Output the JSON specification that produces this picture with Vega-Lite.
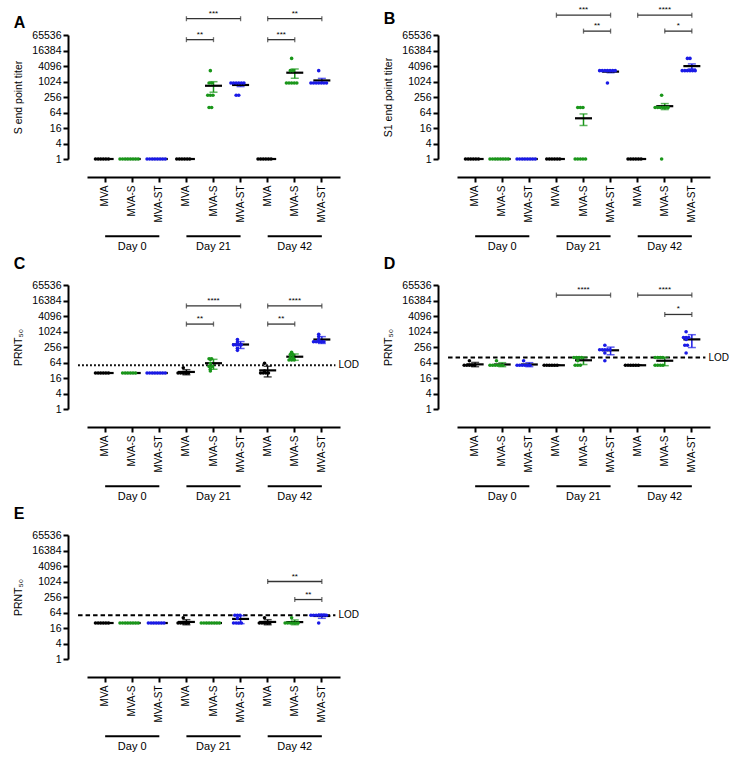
{
"$schema": "https://vega.github.io/schema/vega-lite/v6.json",
"padding": {"left": 13, "top": 6, "right": 5, "bottom": 5},
"datasets": {
"days": [
{"g":"0|MVA","g2":"0|MVA-ST","gm":"0|MVA-S","v":0.001,"lab":"Day 0"},
{"g":"21|MVA","g2":"21|MVA-ST","gm":"21|MVA-S","v":0.001,"lab":"Day 21"},
{"g":"42|MVA","g2":"42|MVA-ST","gm":"42|MVA-S","v":0.001,"lab":"Day 42"}
],
"bA": [
{"g":"21|MVA","g2":"21|MVA-ST","gm":"21|MVA-S","span":2,"v":281000,"s":"***"},
{"g":"21|MVA","g2":"21|MVA-S","gm":"21|MVA","span":1,"v":43200,"s":"**"},
{"g":"42|MVA","g2":"42|MVA-ST","gm":"42|MVA-S","span":2,"v":281000,"s":"**"},
{"g":"42|MVA","g2":"42|MVA-S","gm":"42|MVA","span":1,"v":43200,"s":"***"}
],
"bB": [
{"g":"21|MVA","g2":"21|MVA-ST","gm":"21|MVA-S","span":2,"v":386000,"s":"***"},
{"g":"21|MVA-S","g2":"21|MVA-ST","gm":"21|MVA-S","span":1,"v":92700,"s":"**"},
{"g":"42|MVA","g2":"42|MVA-ST","gm":"42|MVA-S","span":2,"v":386000,"s":"****"},
{"g":"42|MVA-S","g2":"42|MVA-ST","gm":"42|MVA-S","span":1,"v":92700,"s":"*"}
],
"bC": [
{"g":"21|MVA","g2":"21|MVA-ST","gm":"21|MVA-S","span":2,"v":10080,"s":"****"},
{"g":"21|MVA","g2":"21|MVA-S","gm":"21|MVA","span":1,"v":1990,"s":"**"},
{"g":"42|MVA","g2":"42|MVA-ST","gm":"42|MVA-S","span":2,"v":10080,"s":"****"},
{"g":"42|MVA","g2":"42|MVA-S","gm":"42|MVA","span":1,"v":1990,"s":"**"}
],
"bD": [
{"g":"21|MVA","g2":"21|MVA-ST","gm":"21|MVA-S","span":2,"v":26600,"s":"****"},
{"g":"42|MVA","g2":"42|MVA-ST","gm":"42|MVA-S","span":2,"v":26600,"s":"****"},
{"g":"42|MVA-S","g2":"42|MVA-ST","gm":"42|MVA-S","span":1,"v":4700,"s":"*"}
],
"bE": [
{"g":"42|MVA","g2":"42|MVA-ST","gm":"42|MVA-S","span":2,"v":1024,"s":"**"},
{"g":"42|MVA-S","g2":"42|MVA-ST","gm":"42|MVA-S","span":1,"v":204,"s":"**"}
],
"dA": [
{"g":"0|MVA","c":"MVA","v":1},{"g":"0|MVA","c":"MVA","v":1},{"g":"0|MVA","c":"MVA","v":1},{"g":"0|MVA","c":"MVA","v":1},{"g":"0|MVA","c":"MVA","v":1},{"g":"0|MVA","c":"MVA","v":1},
{"g":"0|MVA-S","c":"MVA-S","v":1},{"g":"0|MVA-S","c":"MVA-S","v":1},{"g":"0|MVA-S","c":"MVA-S","v":1},{"g":"0|MVA-S","c":"MVA-S","v":1},{"g":"0|MVA-S","c":"MVA-S","v":1},{"g":"0|MVA-S","c":"MVA-S","v":1},{"g":"0|MVA-S","c":"MVA-S","v":1},{"g":"0|MVA-S","c":"MVA-S","v":1},
{"g":"0|MVA-ST","c":"MVA-ST","v":1},{"g":"0|MVA-ST","c":"MVA-ST","v":1},{"g":"0|MVA-ST","c":"MVA-ST","v":1},{"g":"0|MVA-ST","c":"MVA-ST","v":1},{"g":"0|MVA-ST","c":"MVA-ST","v":1},{"g":"0|MVA-ST","c":"MVA-ST","v":1},{"g":"0|MVA-ST","c":"MVA-ST","v":1},{"g":"0|MVA-ST","c":"MVA-ST","v":1},
{"g":"21|MVA","c":"MVA","v":1},{"g":"21|MVA","c":"MVA","v":1},{"g":"21|MVA","c":"MVA","v":1},{"g":"21|MVA","c":"MVA","v":1},{"g":"21|MVA","c":"MVA","v":1},{"g":"21|MVA","c":"MVA","v":1},
{"g":"21|MVA-S","c":"MVA-S","v":2700},{"g":"21|MVA-S","c":"MVA-S","v":900},{"g":"21|MVA-S","c":"MVA-S","v":900},{"g":"21|MVA-S","c":"MVA-S","v":300},{"g":"21|MVA-S","c":"MVA-S","v":300},{"g":"21|MVA-S","c":"MVA-S","v":300},{"g":"21|MVA-S","c":"MVA-S","v":100},{"g":"21|MVA-S","c":"MVA-S","v":100},
{"g":"21|MVA-ST","c":"MVA-ST","v":900},{"g":"21|MVA-ST","c":"MVA-ST","v":900},{"g":"21|MVA-ST","c":"MVA-ST","v":900},{"g":"21|MVA-ST","c":"MVA-ST","v":900},{"g":"21|MVA-ST","c":"MVA-ST","v":900},{"g":"21|MVA-ST","c":"MVA-ST","v":900},{"g":"21|MVA-ST","c":"MVA-ST","v":300},{"g":"21|MVA-ST","c":"MVA-ST","v":300},
{"g":"42|MVA","c":"MVA","v":1},{"g":"42|MVA","c":"MVA","v":1},{"g":"42|MVA","c":"MVA","v":1},{"g":"42|MVA","c":"MVA","v":1},{"g":"42|MVA","c":"MVA","v":1},{"g":"42|MVA","c":"MVA","v":1},
{"g":"42|MVA-S","c":"MVA-S","v":8100},{"g":"42|MVA-S","c":"MVA-S","v":2700},{"g":"42|MVA-S","c":"MVA-S","v":2700},{"g":"42|MVA-S","c":"MVA-S","v":900},{"g":"42|MVA-S","c":"MVA-S","v":900},{"g":"42|MVA-S","c":"MVA-S","v":900},{"g":"42|MVA-S","c":"MVA-S","v":900},{"g":"42|MVA-S","c":"MVA-S","v":900},
{"g":"42|MVA-ST","c":"MVA-ST","v":2700},{"g":"42|MVA-ST","c":"MVA-ST","v":900},{"g":"42|MVA-ST","c":"MVA-ST","v":900},{"g":"42|MVA-ST","c":"MVA-ST","v":900},{"g":"42|MVA-ST","c":"MVA-ST","v":900},{"g":"42|MVA-ST","c":"MVA-ST","v":900},{"g":"42|MVA-ST","c":"MVA-ST","v":900},{"g":"42|MVA-ST","c":"MVA-ST","v":900}
],
"dB": [
{"g":"0|MVA","c":"MVA","v":1},{"g":"0|MVA","c":"MVA","v":1},{"g":"0|MVA","c":"MVA","v":1},{"g":"0|MVA","c":"MVA","v":1},{"g":"0|MVA","c":"MVA","v":1},{"g":"0|MVA","c":"MVA","v":1},
{"g":"0|MVA-S","c":"MVA-S","v":1},{"g":"0|MVA-S","c":"MVA-S","v":1},{"g":"0|MVA-S","c":"MVA-S","v":1},{"g":"0|MVA-S","c":"MVA-S","v":1},{"g":"0|MVA-S","c":"MVA-S","v":1},{"g":"0|MVA-S","c":"MVA-S","v":1},{"g":"0|MVA-S","c":"MVA-S","v":1},{"g":"0|MVA-S","c":"MVA-S","v":1},
{"g":"0|MVA-ST","c":"MVA-ST","v":1},{"g":"0|MVA-ST","c":"MVA-ST","v":1},{"g":"0|MVA-ST","c":"MVA-ST","v":1},{"g":"0|MVA-ST","c":"MVA-ST","v":1},{"g":"0|MVA-ST","c":"MVA-ST","v":1},{"g":"0|MVA-ST","c":"MVA-ST","v":1},{"g":"0|MVA-ST","c":"MVA-ST","v":1},{"g":"0|MVA-ST","c":"MVA-ST","v":1},
{"g":"21|MVA","c":"MVA","v":1},{"g":"21|MVA","c":"MVA","v":1},{"g":"21|MVA","c":"MVA","v":1},{"g":"21|MVA","c":"MVA","v":1},{"g":"21|MVA","c":"MVA","v":1},{"g":"21|MVA","c":"MVA","v":1},
{"g":"21|MVA-S","c":"MVA-S","v":100},{"g":"21|MVA-S","c":"MVA-S","v":100},{"g":"21|MVA-S","c":"MVA-S","v":100},{"g":"21|MVA-S","c":"MVA-S","v":1},{"g":"21|MVA-S","c":"MVA-S","v":1},{"g":"21|MVA-S","c":"MVA-S","v":1},{"g":"21|MVA-S","c":"MVA-S","v":1},{"g":"21|MVA-S","c":"MVA-S","v":1},
{"g":"21|MVA-ST","c":"MVA-ST","v":2700},{"g":"21|MVA-ST","c":"MVA-ST","v":2700},{"g":"21|MVA-ST","c":"MVA-ST","v":2700},{"g":"21|MVA-ST","c":"MVA-ST","v":2700},{"g":"21|MVA-ST","c":"MVA-ST","v":2700},{"g":"21|MVA-ST","c":"MVA-ST","v":2700},{"g":"21|MVA-ST","c":"MVA-ST","v":2700},{"g":"21|MVA-ST","c":"MVA-ST","v":900},
{"g":"42|MVA","c":"MVA","v":1},{"g":"42|MVA","c":"MVA","v":1},{"g":"42|MVA","c":"MVA","v":1},{"g":"42|MVA","c":"MVA","v":1},{"g":"42|MVA","c":"MVA","v":1},{"g":"42|MVA","c":"MVA","v":1},
{"g":"42|MVA-S","c":"MVA-S","v":300},{"g":"42|MVA-S","c":"MVA-S","v":100},{"g":"42|MVA-S","c":"MVA-S","v":100},{"g":"42|MVA-S","c":"MVA-S","v":100},{"g":"42|MVA-S","c":"MVA-S","v":100},{"g":"42|MVA-S","c":"MVA-S","v":100},{"g":"42|MVA-S","c":"MVA-S","v":100},{"g":"42|MVA-S","c":"MVA-S","v":1},
{"g":"42|MVA-ST","c":"MVA-ST","v":8100},{"g":"42|MVA-ST","c":"MVA-ST","v":8100},{"g":"42|MVA-ST","c":"MVA-ST","v":2700},{"g":"42|MVA-ST","c":"MVA-ST","v":2700},{"g":"42|MVA-ST","c":"MVA-ST","v":2700},{"g":"42|MVA-ST","c":"MVA-ST","v":2700},{"g":"42|MVA-ST","c":"MVA-ST","v":2700},{"g":"42|MVA-ST","c":"MVA-ST","v":2700}
],
"dC": [
{"g":"0|MVA","c":"MVA","v":25},{"g":"0|MVA","c":"MVA","v":25},{"g":"0|MVA","c":"MVA","v":25},{"g":"0|MVA","c":"MVA","v":25},{"g":"0|MVA","c":"MVA","v":25},{"g":"0|MVA","c":"MVA","v":25},
{"g":"0|MVA-S","c":"MVA-S","v":25},{"g":"0|MVA-S","c":"MVA-S","v":25},{"g":"0|MVA-S","c":"MVA-S","v":25},{"g":"0|MVA-S","c":"MVA-S","v":25},{"g":"0|MVA-S","c":"MVA-S","v":25},{"g":"0|MVA-S","c":"MVA-S","v":25},
{"g":"0|MVA-ST","c":"MVA-ST","v":25},{"g":"0|MVA-ST","c":"MVA-ST","v":25},{"g":"0|MVA-ST","c":"MVA-ST","v":25},{"g":"0|MVA-ST","c":"MVA-ST","v":25},{"g":"0|MVA-ST","c":"MVA-ST","v":25},{"g":"0|MVA-ST","c":"MVA-ST","v":25},{"g":"0|MVA-ST","c":"MVA-ST","v":25},{"g":"0|MVA-ST","c":"MVA-ST","v":25},
{"g":"21|MVA","c":"MVA","v":40},{"g":"21|MVA","c":"MVA","v":25},{"g":"21|MVA","c":"MVA","v":25},{"g":"21|MVA","c":"MVA","v":25},{"g":"21|MVA","c":"MVA","v":25},{"g":"21|MVA","c":"MVA","v":25},
{"g":"21|MVA-S","c":"MVA-S","v":90},{"g":"21|MVA-S","c":"MVA-S","v":90},{"g":"21|MVA-S","c":"MVA-S","v":85},{"g":"21|MVA-S","c":"MVA-S","v":60},{"g":"21|MVA-S","c":"MVA-S","v":45},{"g":"21|MVA-S","c":"MVA-S","v":45},{"g":"21|MVA-S","c":"MVA-S","v":35},{"g":"21|MVA-S","c":"MVA-S","v":30},
{"g":"21|MVA-ST","c":"MVA-ST","v":500},{"g":"21|MVA-ST","c":"MVA-ST","v":400},{"g":"21|MVA-ST","c":"MVA-ST","v":310},{"g":"21|MVA-ST","c":"MVA-ST","v":310},{"g":"21|MVA-ST","c":"MVA-ST","v":310},{"g":"21|MVA-ST","c":"MVA-ST","v":310},{"g":"21|MVA-ST","c":"MVA-ST","v":230},{"g":"21|MVA-ST","c":"MVA-ST","v":190},
{"g":"42|MVA","c":"MVA","v":60},{"g":"42|MVA","c":"MVA","v":30},{"g":"42|MVA","c":"MVA","v":25},{"g":"42|MVA","c":"MVA","v":25},{"g":"42|MVA","c":"MVA","v":25},{"g":"42|MVA","c":"MVA","v":25},
{"g":"42|MVA-S","c":"MVA-S","v":160},{"g":"42|MVA-S","c":"MVA-S","v":130},{"g":"42|MVA-S","c":"MVA-S","v":130},{"g":"42|MVA-S","c":"MVA-S","v":100},{"g":"42|MVA-S","c":"MVA-S","v":100},{"g":"42|MVA-S","c":"MVA-S","v":80},{"g":"42|MVA-S","c":"MVA-S","v":80},{"g":"42|MVA-S","c":"MVA-S","v":80},
{"g":"42|MVA-ST","c":"MVA-ST","v":800},{"g":"42|MVA-ST","c":"MVA-ST","v":650},{"g":"42|MVA-ST","c":"MVA-ST","v":500},{"g":"42|MVA-ST","c":"MVA-ST","v":410},{"g":"42|MVA-ST","c":"MVA-ST","v":410},{"g":"42|MVA-ST","c":"MVA-ST","v":410},{"g":"42|MVA-ST","c":"MVA-ST","v":410},{"g":"42|MVA-ST","c":"MVA-ST","v":410}
],
"dD": [
{"g":"0|MVA","c":"MVA","v":75},{"g":"0|MVA","c":"MVA","v":50},{"g":"0|MVA","c":"MVA","v":50},{"g":"0|MVA","c":"MVA","v":50},{"g":"0|MVA","c":"MVA","v":50},{"g":"0|MVA","c":"MVA","v":50},
{"g":"0|MVA-S","c":"MVA-S","v":75},{"g":"0|MVA-S","c":"MVA-S","v":50},{"g":"0|MVA-S","c":"MVA-S","v":50},{"g":"0|MVA-S","c":"MVA-S","v":50},{"g":"0|MVA-S","c":"MVA-S","v":50},{"g":"0|MVA-S","c":"MVA-S","v":50},{"g":"0|MVA-S","c":"MVA-S","v":50},
{"g":"0|MVA-ST","c":"MVA-ST","v":75},{"g":"0|MVA-ST","c":"MVA-ST","v":50},{"g":"0|MVA-ST","c":"MVA-ST","v":50},{"g":"0|MVA-ST","c":"MVA-ST","v":50},{"g":"0|MVA-ST","c":"MVA-ST","v":50},{"g":"0|MVA-ST","c":"MVA-ST","v":50},{"g":"0|MVA-ST","c":"MVA-ST","v":50},
{"g":"21|MVA","c":"MVA","v":50},{"g":"21|MVA","c":"MVA","v":50},{"g":"21|MVA","c":"MVA","v":50},{"g":"21|MVA","c":"MVA","v":50},{"g":"21|MVA","c":"MVA","v":50},{"g":"21|MVA","c":"MVA","v":50},
{"g":"21|MVA-S","c":"MVA-S","v":100},{"g":"21|MVA-S","c":"MVA-S","v":100},{"g":"21|MVA-S","c":"MVA-S","v":100},{"g":"21|MVA-S","c":"MVA-S","v":100},{"g":"21|MVA-S","c":"MVA-S","v":75},{"g":"21|MVA-S","c":"MVA-S","v":50},{"g":"21|MVA-S","c":"MVA-S","v":50},{"g":"21|MVA-S","c":"MVA-S","v":50},
{"g":"21|MVA-ST","c":"MVA-ST","v":300},{"g":"21|MVA-ST","c":"MVA-ST","v":200},{"g":"21|MVA-ST","c":"MVA-ST","v":200},{"g":"21|MVA-ST","c":"MVA-ST","v":200},{"g":"21|MVA-ST","c":"MVA-ST","v":200},{"g":"21|MVA-ST","c":"MVA-ST","v":200},{"g":"21|MVA-ST","c":"MVA-ST","v":150},{"g":"21|MVA-ST","c":"MVA-ST","v":75},
{"g":"42|MVA","c":"MVA","v":50},{"g":"42|MVA","c":"MVA","v":50},{"g":"42|MVA","c":"MVA","v":50},{"g":"42|MVA","c":"MVA","v":50},{"g":"42|MVA","c":"MVA","v":50},{"g":"42|MVA","c":"MVA","v":50},
{"g":"42|MVA-S","c":"MVA-S","v":100},{"g":"42|MVA-S","c":"MVA-S","v":100},{"g":"42|MVA-S","c":"MVA-S","v":100},{"g":"42|MVA-S","c":"MVA-S","v":100},{"g":"42|MVA-S","c":"MVA-S","v":50},{"g":"42|MVA-S","c":"MVA-S","v":50},{"g":"42|MVA-S","c":"MVA-S","v":50},{"g":"42|MVA-S","c":"MVA-S","v":50},
{"g":"42|MVA-ST","c":"MVA-ST","v":1000},{"g":"42|MVA-ST","c":"MVA-ST","v":600},{"g":"42|MVA-ST","c":"MVA-ST","v":600},{"g":"42|MVA-ST","c":"MVA-ST","v":600},{"g":"42|MVA-ST","c":"MVA-ST","v":500},{"g":"42|MVA-ST","c":"MVA-ST","v":300},{"g":"42|MVA-ST","c":"MVA-ST","v":300},{"g":"42|MVA-ST","c":"MVA-ST","v":150}
],
"dE": [
{"g":"0|MVA","c":"MVA","v":25},{"g":"0|MVA","c":"MVA","v":25},{"g":"0|MVA","c":"MVA","v":25},{"g":"0|MVA","c":"MVA","v":25},{"g":"0|MVA","c":"MVA","v":25},{"g":"0|MVA","c":"MVA","v":25},
{"g":"0|MVA-S","c":"MVA-S","v":25},{"g":"0|MVA-S","c":"MVA-S","v":25},{"g":"0|MVA-S","c":"MVA-S","v":25},{"g":"0|MVA-S","c":"MVA-S","v":25},{"g":"0|MVA-S","c":"MVA-S","v":25},{"g":"0|MVA-S","c":"MVA-S","v":25},{"g":"0|MVA-S","c":"MVA-S","v":25},{"g":"0|MVA-S","c":"MVA-S","v":25},
{"g":"0|MVA-ST","c":"MVA-ST","v":25},{"g":"0|MVA-ST","c":"MVA-ST","v":25},{"g":"0|MVA-ST","c":"MVA-ST","v":25},{"g":"0|MVA-ST","c":"MVA-ST","v":25},{"g":"0|MVA-ST","c":"MVA-ST","v":25},{"g":"0|MVA-ST","c":"MVA-ST","v":25},{"g":"0|MVA-ST","c":"MVA-ST","v":25},
{"g":"21|MVA","c":"MVA","v":40},{"g":"21|MVA","c":"MVA","v":25},{"g":"21|MVA","c":"MVA","v":25},{"g":"21|MVA","c":"MVA","v":25},{"g":"21|MVA","c":"MVA","v":25},{"g":"21|MVA","c":"MVA","v":25},
{"g":"21|MVA-S","c":"MVA-S","v":25},{"g":"21|MVA-S","c":"MVA-S","v":25},{"g":"21|MVA-S","c":"MVA-S","v":25},{"g":"21|MVA-S","c":"MVA-S","v":25},{"g":"21|MVA-S","c":"MVA-S","v":25},{"g":"21|MVA-S","c":"MVA-S","v":25},{"g":"21|MVA-S","c":"MVA-S","v":25},{"g":"21|MVA-S","c":"MVA-S","v":25},
{"g":"21|MVA-ST","c":"MVA-ST","v":50},{"g":"21|MVA-ST","c":"MVA-ST","v":50},{"g":"21|MVA-ST","c":"MVA-ST","v":50},{"g":"21|MVA-ST","c":"MVA-ST","v":38},{"g":"21|MVA-ST","c":"MVA-ST","v":25},{"g":"21|MVA-ST","c":"MVA-ST","v":25},{"g":"21|MVA-ST","c":"MVA-ST","v":25},{"g":"21|MVA-ST","c":"MVA-ST","v":25},
{"g":"42|MVA","c":"MVA","v":40},{"g":"42|MVA","c":"MVA","v":25},{"g":"42|MVA","c":"MVA","v":25},{"g":"42|MVA","c":"MVA","v":25},{"g":"42|MVA","c":"MVA","v":25},{"g":"42|MVA","c":"MVA","v":25},
{"g":"42|MVA-S","c":"MVA-S","v":40},{"g":"42|MVA-S","c":"MVA-S","v":25},{"g":"42|MVA-S","c":"MVA-S","v":25},{"g":"42|MVA-S","c":"MVA-S","v":25},{"g":"42|MVA-S","c":"MVA-S","v":25},{"g":"42|MVA-S","c":"MVA-S","v":25},{"g":"42|MVA-S","c":"MVA-S","v":25},
{"g":"42|MVA-ST","c":"MVA-ST","v":50},{"g":"42|MVA-ST","c":"MVA-ST","v":50},{"g":"42|MVA-ST","c":"MVA-ST","v":50},{"g":"42|MVA-ST","c":"MVA-ST","v":50},{"g":"42|MVA-ST","c":"MVA-ST","v":50},{"g":"42|MVA-ST","c":"MVA-ST","v":50},{"g":"42|MVA-ST","c":"MVA-ST","v":50},{"g":"42|MVA-ST","c":"MVA-ST","v":25}
]
},
"columns": 2,
"spacing": {"row": 126, "column": 117},
"bounds": "flush",
"concat": [
{
"width": 253, "height": 124,
"title": {"text": "A", "offset": -21},
"encoding": {
"x": {"field": "g", "type": "nominal", "bandPosition": 0.5, "scale": {"domain": ["0|MVA","0|MVA-S","0|MVA-ST","21|MVA","21|MVA-S","21|MVA-ST","42|MVA","42|MVA-S","42|MVA-ST"], "paddingInner": 0, "paddingOuter": 0.17}, "axis": {"title": null, "offset": 18, "labelAngle": -90, "labelExpr": "split(datum.value,'|')[1]", "labelFontSize": 10, "labelPadding": 3}},
"y": {"field": "v", "type": "quantitative", "scale": {"type": "log", "base": 2, "domain": [1, 65536], "nice": false}, "axis": {"title": "S end point titer", "offset": 19, "values": [1,4,16,64,256,1024,4096,16384,65536], "format": "d", "titlePadding": 8}}
},
"layer": [
{"data": {"name": "dA"}, "mark": {"type": "errorbar", "extent": "stderr", "ticks": true, "size": 8, "thickness": 1.5}, "encoding": {"color": {"field": "c", "type": "nominal", "scale": {"domain": ["MVA","MVA-S","MVA-ST"], "range": ["#000000","#1a961a","#1a1ae6"]}, "legend": null}}},
{"data": {"name": "dA"}, "mark": {"type": "tick", "color": "black", "size": 17, "thickness": 2.2}, "encoding": {"y": {"aggregate": "mean", "field": "v", "type": "quantitative"}}},
{"data": {"name": "dA"}, "transform": [{"window": [{"op": "count", "as": "one"}], "frame": [0, 0]}, {"stack": "one", "groupby": ["g", "v"], "offset": "center", "as": ["s0", "s1"]}], "mark": {"type": "circle", "size": 13, "opacity": 1}, "encoding": {"xOffset": {"field": "s0", "type": "quantitative", "scale": {"domain": [-4.5, 3.5], "range": [-10.4, 10.4]}}, "color": {"field": "c", "type": "nominal", "legend": null}}},
{"data": {"name": "bA"}, "mark": {"type": "rule", "color": "#333333", "strokeWidth": 1.3, "clip": false}, "encoding": {"x2": {"field": "g2", "bandPosition": 0.5}}},
{"data": {"name": "bA"}, "transform": [{"fold": ["g", "g2"], "as": ["k", "gg"]}], "mark": {"type": "tick", "orient": "vertical", "color": "#333333", "size": 5, "thickness": 1.3, "clip": false}, "encoding": {"x": {"field": "gg", "type": "nominal", "bandPosition": 0.5, "title": null}}},
{"data": {"name": "bA"}, "transform": [{"filter": "datum.span == 2"}], "mark": {"type": "text", "baseline": "bottom", "dy": -1, "fontSize": 8, "clip": false}, "encoding": {"x": {"field": "gm", "type": "nominal", "bandPosition": 0.5, "title": null}, "text": {"field": "s"}}},
{"data": {"name": "bA"}, "transform": [{"filter": "datum.span == 1"}], "mark": {"type": "text", "baseline": "bottom", "dy": -1, "fontSize": 8, "clip": false}, "encoding": {"x": {"field": "g", "type": "nominal", "bandPosition": 1, "title": null}, "text": {"field": "s"}}},
{"data": {"name": "days"}, "mark": {"type": "rule", "color": "black", "strokeWidth": 2, "clip": false}, "encoding": {"x2": {"field": "g2", "bandPosition": 0.5}}},
{"data": {"name": "days"}, "mark": {"type": "text", "baseline": "top", "dy": 5, "fontSize": 11, "clip": false}, "encoding": {"x": {"field": "gm", "type": "nominal", "bandPosition": 0.5, "title": null}, "text": {"field": "lab"}}}
]
},
{
"width": 253, "height": 124,
"title": {"text": "B", "offset": -21},
"encoding": {
"x": {"field": "g", "type": "nominal", "bandPosition": 0.5, "scale": {"domain": ["0|MVA","0|MVA-S","0|MVA-ST","21|MVA","21|MVA-S","21|MVA-ST","42|MVA","42|MVA-S","42|MVA-ST"], "paddingInner": 0, "paddingOuter": 0.17}, "axis": {"title": null, "offset": 18, "labelAngle": -90, "labelExpr": "split(datum.value,'|')[1]", "labelFontSize": 10, "labelPadding": 3}},
"y": {"field": "v", "type": "quantitative", "scale": {"type": "log", "base": 2, "domain": [1, 65536], "nice": false}, "axis": {"title": "S1 end point titer", "offset": 19, "values": [1,4,16,64,256,1024,4096,16384,65536], "format": "d", "titlePadding": 8}}
},
"layer": [
{"data": {"name": "dB"}, "mark": {"type": "errorbar", "extent": "stderr", "ticks": true, "size": 8, "thickness": 1.5}, "encoding": {"color": {"field": "c", "type": "nominal", "scale": {"domain": ["MVA","MVA-S","MVA-ST"], "range": ["#000000","#1a961a","#1a1ae6"]}, "legend": null}}},
{"data": {"name": "dB"}, "mark": {"type": "tick", "color": "black", "size": 17, "thickness": 2.2}, "encoding": {"y": {"aggregate": "mean", "field": "v", "type": "quantitative"}}},
{"data": {"name": "dB"}, "transform": [{"window": [{"op": "count", "as": "one"}], "frame": [0, 0]}, {"stack": "one", "groupby": ["g", "v"], "offset": "center", "as": ["s0", "s1"]}], "mark": {"type": "circle", "size": 13, "opacity": 1}, "encoding": {"xOffset": {"field": "s0", "type": "quantitative", "scale": {"domain": [-4.5, 3.5], "range": [-10.4, 10.4]}}, "color": {"field": "c", "type": "nominal", "legend": null}}},
{"data": {"name": "bB"}, "mark": {"type": "rule", "color": "#333333", "strokeWidth": 1.3, "clip": false}, "encoding": {"x2": {"field": "g2", "bandPosition": 0.5}}},
{"data": {"name": "bB"}, "transform": [{"fold": ["g", "g2"], "as": ["k", "gg"]}], "mark": {"type": "tick", "orient": "vertical", "color": "#333333", "size": 5, "thickness": 1.3, "clip": false}, "encoding": {"x": {"field": "gg", "type": "nominal", "bandPosition": 0.5, "title": null}}},
{"data": {"name": "bB"}, "transform": [{"filter": "datum.span == 2"}], "mark": {"type": "text", "baseline": "bottom", "dy": -1, "fontSize": 8, "clip": false}, "encoding": {"x": {"field": "gm", "type": "nominal", "bandPosition": 0.5, "title": null}, "text": {"field": "s"}}},
{"data": {"name": "bB"}, "transform": [{"filter": "datum.span == 1"}], "mark": {"type": "text", "baseline": "bottom", "dy": -1, "fontSize": 8, "clip": false}, "encoding": {"x": {"field": "g", "type": "nominal", "bandPosition": 1, "title": null}, "text": {"field": "s"}}},
{"data": {"name": "days"}, "mark": {"type": "rule", "color": "black", "strokeWidth": 2, "clip": false}, "encoding": {"x2": {"field": "g2", "bandPosition": 0.5}}},
{"data": {"name": "days"}, "mark": {"type": "text", "baseline": "top", "dy": 5, "fontSize": 11, "clip": false}, "encoding": {"x": {"field": "gm", "type": "nominal", "bandPosition": 0.5, "title": null}, "text": {"field": "lab"}}}
]
},
{
"width": 253, "height": 124,
"title": {"text": "C", "offset": 8},
"encoding": {
"x": {"field": "g", "type": "nominal", "bandPosition": 0.5, "scale": {"domain": ["0|MVA","0|MVA-S","0|MVA-ST","21|MVA","21|MVA-S","21|MVA-ST","42|MVA","42|MVA-S","42|MVA-ST"], "paddingInner": 0, "paddingOuter": 0.17}, "axis": {"title": null, "offset": 18, "labelAngle": -90, "labelExpr": "split(datum.value,'|')[1]", "labelFontSize": 10, "labelPadding": 3}},
"y": {"field": "v", "type": "quantitative", "scale": {"type": "log", "base": 2, "domain": [1, 65536], "nice": false}, "axis": {"title": "PRNT₅₀", "offset": 19, "values": [1,4,16,64,256,1024,4096,16384,65536], "format": "d", "titlePadding": 8}}
},
"layer": [
{"data": {"values": [{"v": 50, "g": "0|MVA", "g2": "42|MVA-ST", "lab": "LOD"}]}, "mark": {"type": "rule", "color": "black", "strokeWidth": 1.8, "strokeDash": [1.8, 2.2], "clip": false}, "encoding": {"x": {"field": "g", "type": "nominal", "bandPosition": -0.5, "title": null}, "x2": {"field": "g2", "bandPosition": 1}}},
{"data": {"values": [{"v": 50, "g": "0|MVA", "g2": "42|MVA-ST", "lab": "LOD"}]}, "mark": {"type": "text", "align": "left", "baseline": "middle", "dx": 3, "fontSize": 10, "clip": false}, "encoding": {"x": {"field": "g2", "type": "nominal", "bandPosition": 1, "title": null}, "text": {"field": "lab"}}},
{"data": {"name": "dC"}, "mark": {"type": "errorbar", "extent": "stdev", "ticks": true, "size": 8, "thickness": 1.5}, "encoding": {"color": {"field": "c", "type": "nominal", "scale": {"domain": ["MVA","MVA-S","MVA-ST"], "range": ["#000000","#1a961a","#1a1ae6"]}, "legend": null}}},
{"data": {"name": "dC"}, "mark": {"type": "tick", "color": "black", "size": 17, "thickness": 2.2}, "encoding": {"y": {"aggregate": "mean", "field": "v", "type": "quantitative"}}},
{"data": {"name": "dC"}, "transform": [{"window": [{"op": "count", "as": "one"}], "frame": [0, 0]}, {"stack": "one", "groupby": ["g", "v"], "offset": "center", "as": ["s0", "s1"]}], "mark": {"type": "circle", "size": 13, "opacity": 1}, "encoding": {"xOffset": {"field": "s0", "type": "quantitative", "scale": {"domain": [-4.5, 3.5], "range": [-10.4, 10.4]}}, "color": {"field": "c", "type": "nominal", "legend": null}}},
{"data": {"name": "bC"}, "mark": {"type": "rule", "color": "#333333", "strokeWidth": 1.3, "clip": false}, "encoding": {"x2": {"field": "g2", "bandPosition": 0.5}}},
{"data": {"name": "bC"}, "transform": [{"fold": ["g", "g2"], "as": ["k", "gg"]}], "mark": {"type": "tick", "orient": "vertical", "color": "#333333", "size": 5, "thickness": 1.3, "clip": false}, "encoding": {"x": {"field": "gg", "type": "nominal", "bandPosition": 0.5, "title": null}}},
{"data": {"name": "bC"}, "transform": [{"filter": "datum.span == 2"}], "mark": {"type": "text", "baseline": "bottom", "dy": -1, "fontSize": 8, "clip": false}, "encoding": {"x": {"field": "gm", "type": "nominal", "bandPosition": 0.5, "title": null}, "text": {"field": "s"}}},
{"data": {"name": "bC"}, "transform": [{"filter": "datum.span == 1"}], "mark": {"type": "text", "baseline": "bottom", "dy": -1, "fontSize": 8, "clip": false}, "encoding": {"x": {"field": "g", "type": "nominal", "bandPosition": 1, "title": null}, "text": {"field": "s"}}},
{"data": {"name": "days"}, "mark": {"type": "rule", "color": "black", "strokeWidth": 2, "clip": false}, "encoding": {"x2": {"field": "g2", "bandPosition": 0.5}}},
{"data": {"name": "days"}, "mark": {"type": "text", "baseline": "top", "dy": 5, "fontSize": 11, "clip": false}, "encoding": {"x": {"field": "gm", "type": "nominal", "bandPosition": 0.5, "title": null}, "text": {"field": "lab"}}}
]
},
{
"width": 253, "height": 124,
"title": {"text": "D", "offset": 8},
"encoding": {
"x": {"field": "g", "type": "nominal", "bandPosition": 0.5, "scale": {"domain": ["0|MVA","0|MVA-S","0|MVA-ST","21|MVA","21|MVA-S","21|MVA-ST","42|MVA","42|MVA-S","42|MVA-ST"], "paddingInner": 0, "paddingOuter": 0.17}, "axis": {"title": null, "offset": 18, "labelAngle": -90, "labelExpr": "split(datum.value,'|')[1]", "labelFontSize": 10, "labelPadding": 3}},
"y": {"field": "v", "type": "quantitative", "scale": {"type": "log", "base": 2, "domain": [1, 65536], "nice": false}, "axis": {"title": "PRNT₅₀", "offset": 19, "values": [1,4,16,64,256,1024,4096,16384,65536], "format": "d", "titlePadding": 8}}
},
"layer": [
{"data": {"values": [{"v": 100, "g": "0|MVA", "g2": "42|MVA-ST", "lab": "LOD"}]}, "mark": {"type": "rule", "color": "black", "strokeWidth": 2, "strokeDash": [4.5, 3], "clip": false}, "encoding": {"x": {"field": "g", "type": "nominal", "bandPosition": -0.5, "title": null}, "x2": {"field": "g2", "bandPosition": 1}}},
{"data": {"values": [{"v": 100, "g": "0|MVA", "g2": "42|MVA-ST", "lab": "LOD"}]}, "mark": {"type": "text", "align": "left", "baseline": "middle", "dx": 3, "fontSize": 10, "clip": false}, "encoding": {"x": {"field": "g2", "type": "nominal", "bandPosition": 1, "title": null}, "text": {"field": "lab"}}},
{"data": {"name": "dD"}, "mark": {"type": "errorbar", "extent": "stdev", "ticks": true, "size": 8, "thickness": 1.5}, "encoding": {"color": {"field": "c", "type": "nominal", "scale": {"domain": ["MVA","MVA-S","MVA-ST"], "range": ["#000000","#1a961a","#1a1ae6"]}, "legend": null}}},
{"data": {"name": "dD"}, "mark": {"type": "tick", "color": "black", "size": 17, "thickness": 2.2}, "encoding": {"y": {"aggregate": "mean", "field": "v", "type": "quantitative"}}},
{"data": {"name": "dD"}, "transform": [{"window": [{"op": "count", "as": "one"}], "frame": [0, 0]}, {"stack": "one", "groupby": ["g", "v"], "offset": "center", "as": ["s0", "s1"]}], "mark": {"type": "circle", "size": 13, "opacity": 1}, "encoding": {"xOffset": {"field": "s0", "type": "quantitative", "scale": {"domain": [-4.5, 3.5], "range": [-10.4, 10.4]}}, "color": {"field": "c", "type": "nominal", "legend": null}}},
{"data": {"name": "bD"}, "mark": {"type": "rule", "color": "#333333", "strokeWidth": 1.3, "clip": false}, "encoding": {"x2": {"field": "g2", "bandPosition": 0.5}}},
{"data": {"name": "bD"}, "transform": [{"fold": ["g", "g2"], "as": ["k", "gg"]}], "mark": {"type": "tick", "orient": "vertical", "color": "#333333", "size": 5, "thickness": 1.3, "clip": false}, "encoding": {"x": {"field": "gg", "type": "nominal", "bandPosition": 0.5, "title": null}}},
{"data": {"name": "bD"}, "transform": [{"filter": "datum.span == 2"}], "mark": {"type": "text", "baseline": "bottom", "dy": -1, "fontSize": 8, "clip": false}, "encoding": {"x": {"field": "gm", "type": "nominal", "bandPosition": 0.5, "title": null}, "text": {"field": "s"}}},
{"data": {"name": "bD"}, "transform": [{"filter": "datum.span == 1"}], "mark": {"type": "text", "baseline": "bottom", "dy": -1, "fontSize": 8, "clip": false}, "encoding": {"x": {"field": "g", "type": "nominal", "bandPosition": 1, "title": null}, "text": {"field": "s"}}},
{"data": {"name": "days"}, "mark": {"type": "rule", "color": "black", "strokeWidth": 2, "clip": false}, "encoding": {"x2": {"field": "g2", "bandPosition": 0.5}}},
{"data": {"name": "days"}, "mark": {"type": "text", "baseline": "top", "dy": 5, "fontSize": 11, "clip": false}, "encoding": {"x": {"field": "gm", "type": "nominal", "bandPosition": 0.5, "title": null}, "text": {"field": "lab"}}}
]
},
{
"width": 253, "height": 124,
"title": {"text": "E", "offset": 8},
"encoding": {
"x": {"field": "g", "type": "nominal", "bandPosition": 0.5, "scale": {"domain": ["0|MVA","0|MVA-S","0|MVA-ST","21|MVA","21|MVA-S","21|MVA-ST","42|MVA","42|MVA-S","42|MVA-ST"], "paddingInner": 0, "paddingOuter": 0.17}, "axis": {"title": null, "offset": 18, "labelAngle": -90, "labelExpr": "split(datum.value,'|')[1]", "labelFontSize": 10, "labelPadding": 3}},
"y": {"field": "v", "type": "quantitative", "scale": {"type": "log", "base": 2, "domain": [1, 65536], "nice": false}, "axis": {"title": "PRNT₅₀", "offset": 19, "values": [1,4,16,64,256,1024,4096,16384,65536], "format": "d", "titlePadding": 8}}
},
"layer": [
{"data": {"values": [{"v": 50, "g": "0|MVA", "g2": "42|MVA-ST", "lab": "LOD"}]}, "mark": {"type": "rule", "color": "black", "strokeWidth": 2, "strokeDash": [4.5, 3], "clip": false}, "encoding": {"x": {"field": "g", "type": "nominal", "bandPosition": -0.5, "title": null}, "x2": {"field": "g2", "bandPosition": 1}}},
{"data": {"values": [{"v": 50, "g": "0|MVA", "g2": "42|MVA-ST", "lab": "LOD"}]}, "mark": {"type": "text", "align": "left", "baseline": "middle", "dx": 3, "fontSize": 10, "clip": false}, "encoding": {"x": {"field": "g2", "type": "nominal", "bandPosition": 1, "title": null}, "text": {"field": "lab"}}},
{"data": {"name": "dE"}, "mark": {"type": "errorbar", "extent": "stdev", "ticks": true, "size": 8, "thickness": 1.5}, "encoding": {"color": {"field": "c", "type": "nominal", "scale": {"domain": ["MVA","MVA-S","MVA-ST"], "range": ["#000000","#1a961a","#1a1ae6"]}, "legend": null}}},
{"data": {"name": "dE"}, "mark": {"type": "tick", "color": "black", "size": 17, "thickness": 2.2}, "encoding": {"y": {"aggregate": "mean", "field": "v", "type": "quantitative"}}},
{"data": {"name": "dE"}, "transform": [{"window": [{"op": "count", "as": "one"}], "frame": [0, 0]}, {"stack": "one", "groupby": ["g", "v"], "offset": "center", "as": ["s0", "s1"]}], "mark": {"type": "circle", "size": 13, "opacity": 1}, "encoding": {"xOffset": {"field": "s0", "type": "quantitative", "scale": {"domain": [-4.5, 3.5], "range": [-10.4, 10.4]}}, "color": {"field": "c", "type": "nominal", "legend": null}}},
{"data": {"name": "bE"}, "mark": {"type": "rule", "color": "#333333", "strokeWidth": 1.3, "clip": false}, "encoding": {"x2": {"field": "g2", "bandPosition": 0.5}}},
{"data": {"name": "bE"}, "transform": [{"fold": ["g", "g2"], "as": ["k", "gg"]}], "mark": {"type": "tick", "orient": "vertical", "color": "#333333", "size": 5, "thickness": 1.3, "clip": false}, "encoding": {"x": {"field": "gg", "type": "nominal", "bandPosition": 0.5, "title": null}}},
{"data": {"name": "bE"}, "transform": [{"filter": "datum.span == 2"}], "mark": {"type": "text", "baseline": "bottom", "dy": -1, "fontSize": 8, "clip": false}, "encoding": {"x": {"field": "gm", "type": "nominal", "bandPosition": 0.5, "title": null}, "text": {"field": "s"}}},
{"data": {"name": "bE"}, "transform": [{"filter": "datum.span == 1"}], "mark": {"type": "text", "baseline": "bottom", "dy": -1, "fontSize": 8, "clip": false}, "encoding": {"x": {"field": "g", "type": "nominal", "bandPosition": 1, "title": null}, "text": {"field": "s"}}},
{"data": {"name": "days"}, "mark": {"type": "rule", "color": "black", "strokeWidth": 2, "clip": false}, "encoding": {"x2": {"field": "g2", "bandPosition": 0.5}}},
{"data": {"name": "days"}, "mark": {"type": "text", "baseline": "top", "dy": 5, "fontSize": 11, "clip": false}, "encoding": {"x": {"field": "gm", "type": "nominal", "bandPosition": 0.5, "title": null}, "text": {"field": "lab"}}}
]
}
],
"config": {
"font": "Liberation Sans",
"view": {"stroke": null},
"title": {"anchor": "start", "frame": "bounds", "fontSize": 16, "fontWeight": "bold", "font": "Liberation Sans", "color": "black"},
"axis": {"grid": false, "domainColor": "black", "domainWidth": 2, "tickColor": "black", "tickWidth": 2, "tickSize": 5, "labelColor": "black", "labelFontSize": 10.5, "titleFontSize": 10.5, "titleFontWeight": "normal", "titleColor": "black", "labelFont": "Liberation Sans", "titleFont": "Liberation Sans"},
"text": {"font": "Liberation Sans", "color": "black"}
}
}
